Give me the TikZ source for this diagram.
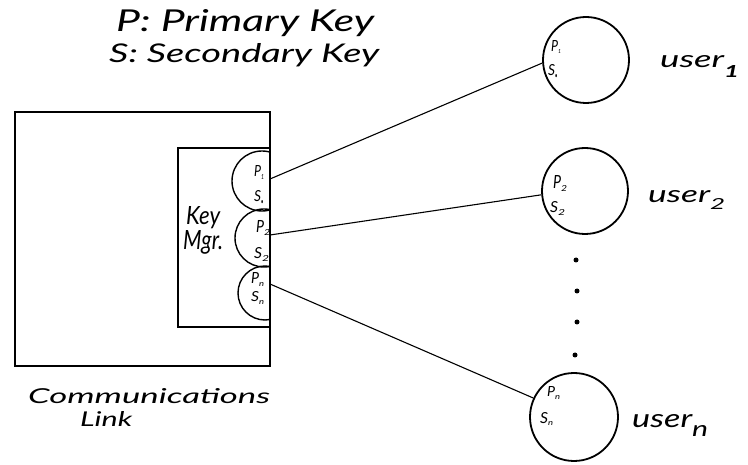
\documentclass[tikz,border=0pt]{standalone}
\usepackage{fontspec}
\setmainfont{Lato}
\usepackage{graphicx}
% hand-lettered text squeezed to a given width and height
\newcommand{\hx}[3]{\resizebox{#1}{#2}{\itshape #3}}
\begin{document}
\begin{tikzpicture}[x=1pt,y=-1pt,
  box/.style={draw,line width=1.6pt},
  keyring/.style={draw,circle,line width=1.4pt,inner sep=0pt},
  usercirc/.style={draw,circle,line width=1.8pt,inner sep=0pt},
  link/.style={line width=1.1pt},
  lbl/.style={inner sep=0pt,anchor=base west},
  dot/.style={fill,circle,inner sep=0pt,minimum size=5pt}]
\useasboundingbox (0,0) rectangle (748,465);

% legend
\node[lbl] (legP) at (116,32) {\hx{258pt}{22pt}{P: Primary Key}};
\node[lbl] (legS) at (109,63) {\hx{270pt}{19pt}{S: Secondary Key}};

% communications link and key manager boxes
\draw[box] (15,112) rectangle (270,366);
\draw[box] (178,148) rectangle (270,327);
\node[lbl] (key) at (186,225) {\hx{34pt}{18pt}{Key}};
\node[lbl] (mgr) at (183,250) {\hx{40pt}{19pt}{Mgr.}};

% key slots, cut off by the right wall
\begin{scope}
  \clip (150,140) rectangle (270,335);
  \node[keyring,minimum size=60pt] (k1) at (262,181) {};
  \node[keyring,minimum size=58pt] (k2) at (264,238) {};
  \node[keyring,minimum size=54pt] (k3) at (265,293) {};
\end{scope}
\node[lbl] (k1p) at (254,177) {\hx{7pt}{11pt}{P}\raisebox{-3pt}{\hx{3pt}{5pt}{1}}};
\node[lbl] (k1s) at (254,202) {\hx{7pt}{11pt}{S}\raisebox{-2pt}{\hx{3pt}{3pt}{.}}};
\node[lbl] (k2p) at (256,233) {\hx{8pt}{12pt}{P}\raisebox{-3pt}{\hx{6pt}{6pt}{2}}};
\node[lbl] (k2s) at (254,259) {\hx{8pt}{11pt}{S}\raisebox{-3pt}{\hx{7pt}{6pt}{2}}};
\node[lbl] (k3p) at (251,284) {\hx{8pt}{11pt}{P}\raisebox{-2pt}{\hx{5pt}{4pt}{n}}};
\node[lbl] (k3s) at (251,302) {\hx{8pt}{10pt}{S}\raisebox{-2pt}{\hx{5pt}{4pt}{n}}};
\coordinate (k1out) at (270,179);
\coordinate (k2out) at (270,235);
\coordinate (k3out) at (270,284);

\node[lbl] (comm) at (28,403) {\hx{242pt}{15pt}{Communications}};
\node[lbl] (linkt) at (80,427) {\hx{52pt}{15pt}{Link}};

% users
\node[usercirc,minimum size=86pt] (u1) at (586,60) {};
\node[usercirc,minimum size=86pt] (u2) at (585,191) {};
\node[usercirc,minimum size=88pt] (un) at (574,417) {};

\node[lbl] (u1p) at (551,52) {\hx{7pt}{11pt}{P}\raisebox{-2pt}{\hx{3pt}{4pt}{1}}};
\node[lbl] (u1s) at (548,76) {\hx{7pt}{11pt}{S}\raisebox{-2pt}{\hx{3pt}{3pt}{.}}};
\node[lbl] (u2p) at (553,189) {\hx{8pt}{13pt}{P}\raisebox{-3pt}{\hx{6pt}{6pt}{2}}};
\node[lbl] (u2s) at (550,213) {\hx{8pt}{11pt}{S}\raisebox{-3pt}{\hx{7pt}{6pt}{2}}};
\node[lbl] (unp) at (547,397) {\hx{8pt}{10pt}{P}\raisebox{-2pt}{\hx{5pt}{4pt}{n}}};
\node[lbl] (uns) at (540,423) {\hx{8pt}{11pt}{S}\raisebox{-2pt}{\hx{5pt}{4pt}{n}}};

\node[lbl] (u1t) at (660,68) {\hx{64pt}{12pt}{user}\raisebox{-10pt}{\hx{15pt}{12pt}{\bfseries 1}}};
\node[lbl] (u2t) at (648,203) {\hx{62pt}{12pt}{user}\raisebox{-7pt}{\hx{15pt}{11pt}{2}}};
\node[lbl] (unt) at (632,428) {\hx{60pt}{13pt}{user}\raisebox{-9pt}{\hx{16pt}{11pt}{n}}};

% connections
\draw[link] (k1out) -- (u1.184);
\draw[link] (k2out) -- (u2.185);
\draw[link] (k3out) -- (un.155);

% ellipsis
\node[dot] (d1) at (576,260) {};
\node[dot] (d2) at (577,291) {};
\node[dot] (d3) at (577,322) {};
\node[dot] (d4) at (575,355) {};
\end{tikzpicture}
\end{document}
